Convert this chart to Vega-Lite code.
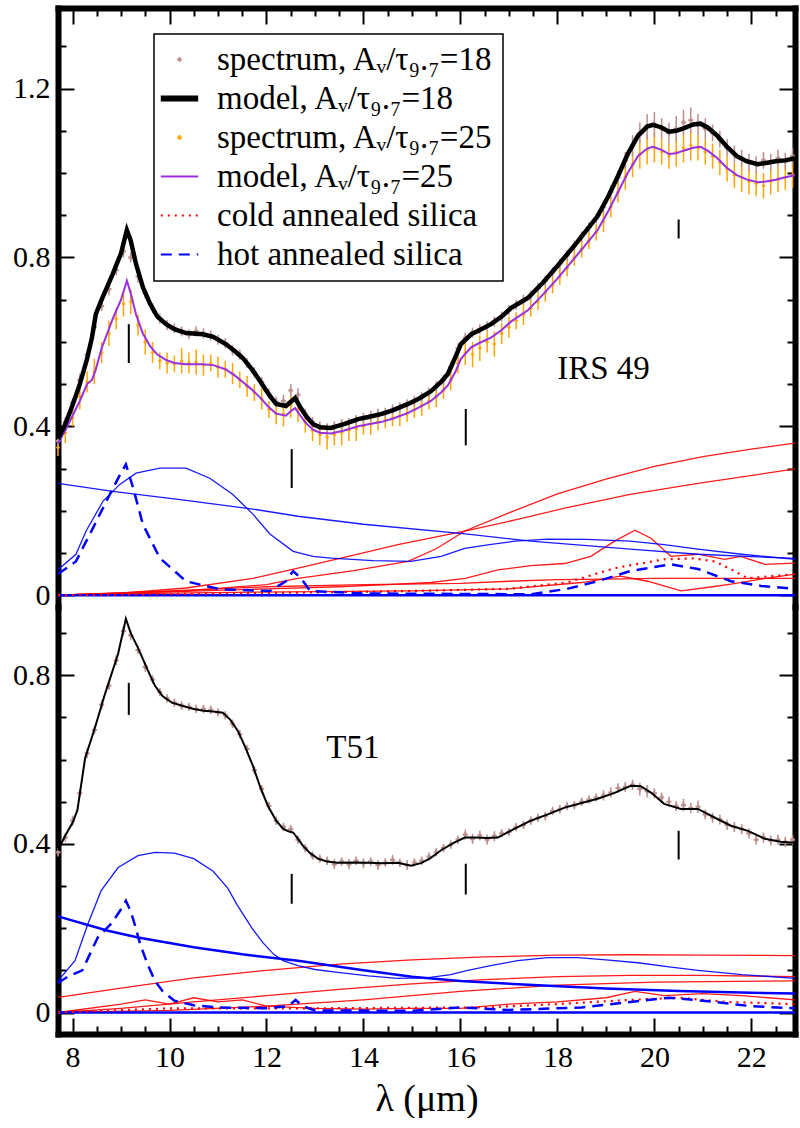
{
"$schema": "https://vega.github.io/schema/vega-lite/v6.json",
"padding": {"left": 12, "top": 7, "right": 0, "bottom": 0},
"background": "white",
"spacing": 0,
"bounds": "flush",
"config": {
  "font": "Liberation Serif",
  "view": {"stroke": null},
  "axis": {"grid": false, "domainColor": "black", "domainWidth": 6, "domainCap": "square", "tickColor": "black", "tickWidth": 2, "labelFont": "Liberation Serif", "labelFontSize": 30, "labelColor": "black", "labelOverlap": false, "labelFlush": false, "titleFont": "Liberation Serif", "titleFontSize": 36, "titleFontWeight": "normal", "titleColor": "black"}
},
"datasets": {
"ts": [
{"x":7.70,"a":0.365,"ea":0.012,"b":0.350,"eb":0.020},{"x":7.85,"a":0.410,"ea":0.012,"b":0.385,"eb":0.025},{"x":8.00,"a":0.455,"ea":0.012,"b":0.420,"eb":0.020},{"x":8.15,"a":0.510,"ea":0.015,"b":0.470,"eb":0.030},{"x":8.30,"a":0.570,"ea":0.012,"b":0.505,"eb":0.025},{"x":8.45,"a":0.635,"ea":0.015,"b":0.530,"eb":0.030},{"x":8.60,"a":0.685,"ea":0.012,"b":0.575,"eb":0.025},{"x":8.75,"a":0.725,"ea":0.015,"b":0.620,"eb":0.030},{"x":8.90,"a":0.770,"ea":0.012,"b":0.655,"eb":0.025},{"x":9.05,"a":0.815,"ea":0.015,"b":0.690,"eb":0.030},{"x":9.20,"a":0.800,"ea":0.012,"b":0.695,"eb":0.030},{"x":9.35,"a":0.755,"ea":0.015,"b":0.640,"eb":0.025},{"x":9.50,"a":0.715,"ea":0.012,"b":0.600,"eb":0.030},{"x":9.65,"a":0.680,"ea":0.012,"b":0.575,"eb":0.025},{"x":9.80,"a":0.655,"ea":0.012,"b":0.555,"eb":0.020},{"x":9.95,"a":0.640,"ea":0.012,"b":0.550,"eb":0.025},{"x":10.10,"a":0.632,"ea":0.012,"b":0.548,"eb":0.020},{"x":10.25,"a":0.625,"ea":0.012,"b":0.555,"eb":0.030},{"x":10.40,"a":0.618,"ea":0.012,"b":0.550,"eb":0.025},{"x":10.55,"a":0.625,"ea":0.012,"b":0.552,"eb":0.030},{"x":10.70,"a":0.620,"ea":0.012,"b":0.545,"eb":0.025},{"x":10.85,"a":0.615,"ea":0.012,"b":0.550,"eb":0.020},{"x":11.00,"a":0.605,"ea":0.012,"b":0.540,"eb":0.025},{"x":11.15,"a":0.597,"ea":0.012,"b":0.535,"eb":0.020},{"x":11.30,"a":0.580,"ea":0.012,"b":0.525,"eb":0.025},{"x":11.45,"a":0.570,"ea":0.012,"b":0.510,"eb":0.020},{"x":11.60,"a":0.550,"ea":0.012,"b":0.495,"eb":0.025},{"x":11.75,"a":0.528,"ea":0.012,"b":0.480,"eb":0.020},{"x":11.90,"a":0.505,"ea":0.012,"b":0.465,"eb":0.025},{"x":12.05,"a":0.478,"ea":0.012,"b":0.440,"eb":0.020},{"x":12.20,"a":0.458,"ea":0.012,"b":0.430,"eb":0.025},{"x":12.35,"a":0.460,"ea":0.015,"b":0.430,"eb":0.030},{"x":12.50,"a":0.485,"ea":0.015,"b":0.450,"eb":0.030},{"x":12.65,"a":0.475,"ea":0.015,"b":0.440,"eb":0.030},{"x":12.80,"a":0.430,"ea":0.012,"b":0.410,"eb":0.025},{"x":12.95,"a":0.410,"ea":0.012,"b":0.390,"eb":0.025},{"x":13.10,"a":0.400,"ea":0.012,"b":0.380,"eb":0.025},{"x":13.25,"a":0.395,"ea":0.012,"b":0.375,"eb":0.030},{"x":13.40,"a":0.400,"ea":0.012,"b":0.380,"eb":0.025},{"x":13.55,"a":0.405,"ea":0.012,"b":0.385,"eb":0.030},{"x":13.70,"a":0.408,"ea":0.012,"b":0.390,"eb":0.025},{"x":13.85,"a":0.415,"ea":0.012,"b":0.395,"eb":0.030},{"x":14.00,"a":0.420,"ea":0.012,"b":0.400,"eb":0.020},{"x":14.15,"a":0.425,"ea":0.012,"b":0.405,"eb":0.025},{"x":14.30,"a":0.430,"ea":0.012,"b":0.410,"eb":0.020},{"x":14.45,"a":0.432,"ea":0.012,"b":0.415,"eb":0.020},{"x":14.60,"a":0.440,"ea":0.012,"b":0.420,"eb":0.020},{"x":14.75,"a":0.445,"ea":0.012,"b":0.425,"eb":0.025},{"x":14.90,"a":0.452,"ea":0.012,"b":0.430,"eb":0.020},{"x":15.05,"a":0.460,"ea":0.012,"b":0.440,"eb":0.020},{"x":15.20,"a":0.470,"ea":0.012,"b":0.450,"eb":0.025},{"x":15.35,"a":0.480,"ea":0.012,"b":0.460,"eb":0.020},{"x":15.50,"a":0.495,"ea":0.012,"b":0.470,"eb":0.025},{"x":15.65,"a":0.510,"ea":0.012,"b":0.485,"eb":0.020},{"x":15.80,"a":0.540,"ea":0.012,"b":0.510,"eb":0.025},{"x":15.95,"a":0.585,"ea":0.012,"b":0.550,"eb":0.025},{"x":16.10,"a":0.610,"ea":0.012,"b":0.575,"eb":0.030},{"x":16.25,"a":0.622,"ea":0.012,"b":0.570,"eb":0.030},{"x":16.40,"a":0.630,"ea":0.012,"b":0.585,"eb":0.030},{"x":16.55,"a":0.637,"ea":0.012,"b":0.600,"eb":0.025},{"x":16.70,"a":0.648,"ea":0.012,"b":0.595,"eb":0.030},{"x":16.85,"a":0.660,"ea":0.012,"b":0.620,"eb":0.025},{"x":17.00,"a":0.675,"ea":0.012,"b":0.635,"eb":0.025},{"x":17.15,"a":0.688,"ea":0.012,"b":0.650,"eb":0.020},{"x":17.30,"a":0.700,"ea":0.012,"b":0.665,"eb":0.025},{"x":17.45,"a":0.710,"ea":0.012,"b":0.680,"eb":0.020},{"x":17.60,"a":0.728,"ea":0.012,"b":0.695,"eb":0.020},{"x":17.75,"a":0.745,"ea":0.012,"b":0.715,"eb":0.020},{"x":17.90,"a":0.765,"ea":0.012,"b":0.735,"eb":0.020},{"x":18.05,"a":0.785,"ea":0.012,"b":0.755,"eb":0.020},{"x":18.20,"a":0.805,"ea":0.012,"b":0.775,"eb":0.020},{"x":18.35,"a":0.828,"ea":0.012,"b":0.800,"eb":0.020},{"x":18.50,"a":0.850,"ea":0.012,"b":0.820,"eb":0.020},{"x":18.65,"a":0.872,"ea":0.012,"b":0.840,"eb":0.020},{"x":18.80,"a":0.893,"ea":0.012,"b":0.860,"eb":0.020},{"x":18.95,"a":0.920,"ea":0.015,"b":0.885,"eb":0.025},{"x":19.10,"a":0.955,"ea":0.015,"b":0.920,"eb":0.025},{"x":19.25,"a":0.990,"ea":0.015,"b":0.955,"eb":0.025},{"x":19.40,"a":1.030,"ea":0.020,"b":0.990,"eb":0.030},{"x":19.55,"a":1.065,"ea":0.025,"b":1.020,"eb":0.030},{"x":19.70,"a":1.095,"ea":0.025,"b":1.045,"eb":0.035},{"x":19.85,"a":1.110,"ea":0.030,"b":1.055,"eb":0.035},{"x":20.00,"a":1.115,"ea":0.030,"b":1.060,"eb":0.035},{"x":20.15,"a":1.105,"ea":0.025,"b":1.050,"eb":0.030},{"x":20.30,"a":1.095,"ea":0.025,"b":1.040,"eb":0.030},{"x":20.45,"a":1.105,"ea":0.030,"b":1.050,"eb":0.035},{"x":20.60,"a":1.120,"ea":0.030,"b":1.060,"eb":0.035},{"x":20.75,"a":1.125,"ea":0.030,"b":1.065,"eb":0.035},{"x":20.90,"a":1.115,"ea":0.025,"b":1.060,"eb":0.030},{"x":21.05,"a":1.105,"ea":0.025,"b":1.050,"eb":0.030},{"x":21.20,"a":1.095,"ea":0.020,"b":1.040,"eb":0.030},{"x":21.35,"a":1.080,"ea":0.020,"b":1.025,"eb":0.030},{"x":21.50,"a":1.060,"ea":0.020,"b":1.010,"eb":0.030},{"x":21.65,"a":1.045,"ea":0.020,"b":0.995,"eb":0.030},{"x":21.80,"a":1.035,"ea":0.020,"b":0.990,"eb":0.035},{"x":21.95,"a":1.025,"ea":0.020,"b":0.980,"eb":0.030},{"x":22.10,"a":1.020,"ea":0.020,"b":0.975,"eb":0.030},{"x":22.25,"a":1.030,"ea":0.020,"b":0.970,"eb":0.030},{"x":22.40,"a":1.025,"ea":0.020,"b":0.980,"eb":0.030},{"x":22.55,"a":1.035,"ea":0.020,"b":0.985,"eb":0.030},{"x":22.70,"a":1.028,"ea":0.020,"b":0.990,"eb":0.030},{"x":22.85,"a":1.040,"ea":0.020,"b":0.995,"eb":0.030}
],
"tm": [
{"x":7.70,"p":0.370,"q":0.360},{"x":7.85,"p":0.405,"q":0.390},{"x":8.00,"p":0.450,"q":0.425},{"x":8.15,"p":0.500,"q":0.460},{"x":8.30,"p":0.560,"q":0.500},{"x":8.40,"p":0.610,"q":0.510},{"x":8.48,"p":0.666,"q":0.535},{"x":8.60,"p":0.700,"q":0.585},{"x":8.83,"p":0.761,"q":0.655},{"x":9.00,"p":0.810,"q":0.700},{"x":9.12,"p":0.865,"q":0.745},{"x":9.20,"p":0.840,"q":0.715},{"x":9.31,"p":0.784,"q":0.665},{"x":9.45,"p":0.730,"q":0.620},{"x":9.60,"p":0.690,"q":0.590},{"x":9.75,"p":0.660,"q":0.570},{"x":9.93,"p":0.642,"q":0.557},{"x":10.10,"p":0.630,"q":0.550},{"x":10.34,"p":0.621,"q":0.547},{"x":10.69,"p":0.618,"q":0.547},{"x":10.90,"p":0.612,"q":0.545},{"x":11.16,"p":0.595,"q":0.535},{"x":11.35,"p":0.578,"q":0.520},{"x":11.51,"p":0.562,"q":0.505},{"x":11.70,"p":0.535,"q":0.487},{"x":11.87,"p":0.507,"q":0.468},{"x":12.05,"p":0.475,"q":0.445},{"x":12.20,"p":0.453,"q":0.430},{"x":12.40,"p":0.448,"q":0.425},{"x":12.52,"p":0.460,"q":0.438},{"x":12.59,"p":0.467,"q":0.443},{"x":12.70,"p":0.445,"q":0.425},{"x":12.81,"p":0.425,"q":0.408},{"x":12.96,"p":0.405,"q":0.392},{"x":13.10,"p":0.398,"q":0.385},{"x":13.33,"p":0.396,"q":0.383},{"x":13.60,"p":0.405,"q":0.390},{"x":13.89,"p":0.417,"q":0.400},{"x":14.10,"p":0.422,"q":0.405},{"x":14.36,"p":0.429,"q":0.410},{"x":14.60,"p":0.438,"q":0.418},{"x":14.92,"p":0.453,"q":0.432},{"x":15.15,"p":0.466,"q":0.445},{"x":15.39,"p":0.483,"q":0.460},{"x":15.60,"p":0.505,"q":0.480},{"x":15.74,"p":0.524,"q":0.497},{"x":15.90,"p":0.565,"q":0.530},{"x":16.01,"p":0.595,"q":0.560},{"x":16.22,"p":0.618,"q":0.587},{"x":16.40,"p":0.628,"q":0.598},{"x":16.63,"p":0.642,"q":0.610},{"x":16.85,"p":0.660,"q":0.628},{"x":17.04,"p":0.680,"q":0.648},{"x":17.39,"p":0.704,"q":0.675},{"x":17.70,"p":0.740,"q":0.712},{"x":18.00,"p":0.780,"q":0.750},{"x":18.40,"p":0.835,"q":0.805},{"x":18.83,"p":0.898,"q":0.865},{"x":19.05,"p":0.945,"q":0.910},{"x":19.25,"p":0.993,"q":0.955},{"x":19.45,"p":1.045,"q":1.000},{"x":19.66,"p":1.088,"q":1.040},{"x":19.85,"p":1.110,"q":1.058},{"x":19.97,"p":1.114,"q":1.062},{"x":20.15,"p":1.108,"q":1.055},{"x":20.30,"p":1.098,"q":1.045},{"x":20.45,"p":1.100,"q":1.047},{"x":20.60,"p":1.106,"q":1.053},{"x":20.80,"p":1.115,"q":1.060},{"x":20.95,"p":1.117,"q":1.062},{"x":21.10,"p":1.108,"q":1.053},{"x":21.30,"p":1.088,"q":1.035},{"x":21.50,"p":1.062,"q":1.012},{"x":21.70,"p":1.040,"q":0.995},{"x":21.90,"p":1.028,"q":0.985},{"x":22.13,"p":1.021,"q":0.978},{"x":22.30,"p":1.024,"q":0.980},{"x":22.50,"p":1.028,"q":0.984},{"x":22.70,"p":1.030,"q":0.990},{"x":22.90,"p":1.035,"q":0.995}
],
"tc": [
{"c":"rA","k":"red","x":7.7,"y":0},{"c":"rA","k":"red","x":9,"y":0.005},{"c":"rA","k":"red","x":10.34,"y":0.017},{"c":"rA","k":"red","x":11.72,"y":0.04},{"c":"rA","k":"red","x":12.65,"y":0.064},{"c":"rA","k":"red","x":13.8,"y":0.095},{"c":"rA","k":"red","x":14.71,"y":0.12},{"c":"rA","k":"red","x":16.09,"y":0.152},{"c":"rA","k":"red","x":17.2,"y":0.18},{"c":"rA","k":"red","x":18.15,"y":0.206},{"c":"rA","k":"red","x":19.5,"y":0.239},{"c":"rA","k":"red","x":20.9,"y":0.265},{"c":"rA","k":"red","x":22.9,"y":0.299},
{"c":"rB","k":"red","x":7.7,"y":0},{"c":"rB","k":"red","x":10.34,"y":0.01},{"c":"rB","k":"red","x":12,"y":0.025},{"c":"rB","k":"red","x":12.65,"y":0.04},{"c":"rB","k":"red","x":13.8,"y":0.058},{"c":"rB","k":"red","x":14.92,"y":0.08},{"c":"rB","k":"red","x":15.5,"y":0.11},{"c":"rB","k":"red","x":16.09,"y":0.152},{"c":"rB","k":"red","x":17,"y":0.195},{"c":"rB","k":"red","x":18,"y":0.24},{"c":"rB","k":"red","x":19,"y":0.275},{"c":"rB","k":"red","x":20,"y":0.305},{"c":"rB","k":"red","x":21,"y":0.328},{"c":"rB","k":"red","x":22,"y":0.346},{"c":"rB","k":"red","x":22.9,"y":0.36},
{"c":"rC","k":"red","x":7.7,"y":0},{"c":"rC","k":"red","x":10,"y":0.008},{"c":"rC","k":"red","x":12,"y":0.015},{"c":"rC","k":"red","x":13.5,"y":0.02},{"c":"rC","k":"red","x":14.5,"y":0.025},{"c":"rC","k":"red","x":15.39,"y":0.03},{"c":"rC","k":"red","x":16.1,"y":0.04},{"c":"rC","k":"red","x":16.77,"y":0.06},{"c":"rC","k":"red","x":17.45,"y":0.07},{"c":"rC","k":"red","x":18.15,"y":0.075},{"c":"rC","k":"red","x":18.69,"y":0.092},{"c":"rC","k":"red","x":19.18,"y":0.128},{"c":"rC","k":"red","x":19.6,"y":0.154},{"c":"rC","k":"red","x":19.93,"y":0.135},{"c":"rC","k":"red","x":20.34,"y":0.092},{"c":"rC","k":"red","x":20.9,"y":0.097},{"c":"rC","k":"red","x":21.45,"y":0.085},{"c":"rC","k":"red","x":21.78,"y":0.092},{"c":"rC","k":"red","x":22.28,"y":0.073},{"c":"rC","k":"red","x":22.9,"y":0.076},
{"c":"rD","k":"red","x":7.7,"y":0},{"c":"rD","k":"red","x":10,"y":0.01},{"c":"rD","k":"red","x":12,"y":0.02},{"c":"rD","k":"red","x":14,"y":0.025},{"c":"rD","k":"red","x":16,"y":0.028},{"c":"rD","k":"red","x":17,"y":0.033},{"c":"rD","k":"red","x":18,"y":0.037},{"c":"rD","k":"red","x":19,"y":0.038},{"c":"rD","k":"red","x":20,"y":0.04},{"c":"rD","k":"red","x":21,"y":0.04},{"c":"rD","k":"red","x":22,"y":0.04},{"c":"rD","k":"red","x":22.9,"y":0.04},
{"c":"rE","k":"red","x":7.7,"y":0},{"c":"rE","k":"red","x":10,"y":0.005},{"c":"rE","k":"red","x":12.5,"y":0.008},{"c":"rE","k":"red","x":15,"y":0.01},{"c":"rE","k":"red","x":17,"y":0.015},{"c":"rE","k":"red","x":18.5,"y":0.03},{"c":"rE","k":"red","x":19.3,"y":0.045},{"c":"rE","k":"red","x":19.86,"y":0.033},{"c":"rE","k":"red","x":20.55,"y":0.01},{"c":"rE","k":"red","x":21.2,"y":0.02},{"c":"rE","k":"red","x":21.58,"y":0.026},{"c":"rE","k":"red","x":22.3,"y":0.04},{"c":"rE","k":"red","x":22.9,"y":0.05},
{"c":"b1","k":"blue","x":7.7,"y":0.265},{"c":"b1","k":"blue","x":8.83,"y":0.246},{"c":"b1","k":"blue","x":10.3,"y":0.225},{"c":"b1","k":"blue","x":11.72,"y":0.204},{"c":"b1","k":"blue","x":12.65,"y":0.187},{"c":"b1","k":"blue","x":14,"y":0.168},{"c":"b1","k":"blue","x":16.1,"y":0.145},{"c":"b1","k":"blue","x":17.45,"y":0.128},{"c":"b1","k":"blue","x":19.5,"y":0.109},{"c":"b1","k":"blue","x":20.9,"y":0.097},{"c":"b1","k":"blue","x":22.9,"y":0.087},
{"c":"b2","k":"blue","x":7.7,"y":0.06},{"c":"b2","k":"blue","x":8.07,"y":0.097},{"c":"b2","k":"blue","x":8.28,"y":0.152},{"c":"b2","k":"blue","x":8.63,"y":0.223},{"c":"b2","k":"blue","x":8.98,"y":0.263},{"c":"b2","k":"blue","x":9.31,"y":0.289},{"c":"b2","k":"blue","x":9.8,"y":0.301},{"c":"b2","k":"blue","x":10.34,"y":0.301},{"c":"b2","k":"blue","x":10.83,"y":0.277},{"c":"b2","k":"blue","x":11.3,"y":0.239},{"c":"b2","k":"blue","x":11.72,"y":0.192},{"c":"b2","k":"blue","x":12.07,"y":0.145},{"c":"b2","k":"blue","x":12.55,"y":0.104},{"c":"b2","k":"blue","x":12.96,"y":0.092},{"c":"b2","k":"blue","x":13.33,"y":0.088},{"c":"b2","k":"blue","x":14.2,"y":0.082},{"c":"b2","k":"blue","x":14.98,"y":0.08},{"c":"b2","k":"blue","x":15.6,"y":0.092},{"c":"b2","k":"blue","x":16.09,"y":0.111},{"c":"b2","k":"blue","x":16.6,"y":0.12},{"c":"b2","k":"blue","x":17.12,"y":0.128},{"c":"b2","k":"blue","x":17.8,"y":0.133},{"c":"b2","k":"blue","x":18.6,"y":0.132},{"c":"b2","k":"blue","x":19.5,"y":0.128},{"c":"b2","k":"blue","x":20.2,"y":0.12},{"c":"b2","k":"blue","x":20.9,"y":0.109},{"c":"b2","k":"blue","x":21.8,"y":0.097},{"c":"b2","k":"blue","x":22.9,"y":0.085},
{"c":"b0","k":"base","x":7.7,"y":0},{"c":"b0","k":"base","x":22.9,"y":0},
{"c":"h","k":"hot","x":7.7,"y":0.05},{"c":"h","k":"hot","x":8.07,"y":0.08},{"c":"h","k":"hot","x":8.42,"y":0.159},{"c":"h","k":"hot","x":8.77,"y":0.239},{"c":"h","k":"hot","x":9.0,"y":0.29},{"c":"h","k":"hot","x":9.1,"y":0.31},{"c":"h","k":"hot","x":9.25,"y":0.254},{"c":"h","k":"hot","x":9.45,"y":0.168},{"c":"h","k":"hot","x":9.8,"y":0.088},{"c":"h","k":"hot","x":10.34,"y":0.033},{"c":"h","k":"hot","x":11.04,"y":0.014},{"c":"h","k":"hot","x":12.07,"y":0.01},{"c":"h","k":"hot","x":12.4,"y":0.033},{"c":"h","k":"hot","x":12.55,"y":0.057},{"c":"h","k":"hot","x":12.71,"y":0.04},{"c":"h","k":"hot","x":12.9,"y":0.01},{"c":"h","k":"hot","x":14,"y":0.004},{"c":"h","k":"hot","x":16,"y":0.003},{"c":"h","k":"hot","x":17.45,"y":0.002},{"c":"h","k":"hot","x":18.2,"y":0.015},{"c":"h","k":"hot","x":18.83,"y":0.033},{"c":"h","k":"hot","x":19.5,"y":0.057},{"c":"h","k":"hot","x":20.34,"y":0.073},{"c":"h","k":"hot","x":20.9,"y":0.062},{"c":"h","k":"hot","x":21.58,"y":0.033},{"c":"h","k":"hot","x":22.2,"y":0.022},{"c":"h","k":"hot","x":22.9,"y":0.015},
{"c":"co","k":"cold","x":7.7,"y":0},{"c":"co","k":"cold","x":12,"y":0.005},{"c":"co","k":"cold","x":15,"y":0.01},{"c":"co","k":"cold","x":17,"y":0.015},{"c":"co","k":"cold","x":18.2,"y":0.03},{"c":"co","k":"cold","x":19.18,"y":0.064},{"c":"co","k":"cold","x":20.2,"y":0.085},{"c":"co","k":"cold","x":20.8,"y":0.087},{"c":"co","k":"cold","x":21.25,"y":0.08},{"c":"co","k":"cold","x":21.6,"y":0.06},{"c":"co","k":"cold","x":21.93,"y":0.04},{"c":"co","k":"cold","x":22.4,"y":0.045},{"c":"co","k":"cold","x":22.9,"y":0.05}
],
"tk": [{"x":9.16,"lo":0.55,"hi":0.642},{"x":12.52,"lo":0.254,"hi":0.346},{"x":16.11,"lo":0.355,"hi":0.441},{"x":20.5,"lo":0.845,"hi":0.89}],
"tt": [{"x":18.95,"y":0.535,"t":"IRS 49"}],
"bs": [
{"x":7.70,"y":0.380,"e":0.010},{"x":7.85,"y":0.415,"e":0.010},{"x":8.00,"y":0.455,"e":0.012},{"x":8.15,"y":0.520,"e":0.010},{"x":8.30,"y":0.615,"e":0.012},{"x":8.45,"y":0.670,"e":0.010},{"x":8.60,"y":0.730,"e":0.012},{"x":8.75,"y":0.775,"e":0.010},{"x":8.90,"y":0.835,"e":0.012},{"x":9.05,"y":0.905,"e":0.012},{"x":9.20,"y":0.895,"e":0.012},{"x":9.35,"y":0.860,"e":0.010},{"x":9.50,"y":0.820,"e":0.012},{"x":9.65,"y":0.790,"e":0.010},{"x":9.80,"y":0.760,"e":0.010},{"x":9.95,"y":0.745,"e":0.010},{"x":10.10,"y":0.735,"e":0.010},{"x":10.25,"y":0.728,"e":0.010},{"x":10.40,"y":0.725,"e":0.010},{"x":10.55,"y":0.720,"e":0.010},{"x":10.70,"y":0.720,"e":0.010},{"x":10.85,"y":0.718,"e":0.010},{"x":11.00,"y":0.712,"e":0.010},{"x":11.15,"y":0.705,"e":0.010},{"x":11.30,"y":0.685,"e":0.010},{"x":11.45,"y":0.660,"e":0.010},{"x":11.60,"y":0.625,"e":0.010},{"x":11.75,"y":0.575,"e":0.010},{"x":11.90,"y":0.530,"e":0.010},{"x":12.05,"y":0.490,"e":0.010},{"x":12.20,"y":0.455,"e":0.010},{"x":12.35,"y":0.440,"e":0.010},{"x":12.50,"y":0.435,"e":0.010},{"x":12.65,"y":0.410,"e":0.010},{"x":12.80,"y":0.390,"e":0.010},{"x":12.95,"y":0.372,"e":0.010},{"x":13.10,"y":0.365,"e":0.010},{"x":13.25,"y":0.360,"e":0.010},{"x":13.40,"y":0.352,"e":0.012},{"x":13.55,"y":0.358,"e":0.010},{"x":13.70,"y":0.352,"e":0.012},{"x":13.85,"y":0.360,"e":0.010},{"x":14.00,"y":0.354,"e":0.012},{"x":14.15,"y":0.358,"e":0.010},{"x":14.30,"y":0.350,"e":0.012},{"x":14.45,"y":0.356,"e":0.010},{"x":14.60,"y":0.362,"e":0.012},{"x":14.75,"y":0.355,"e":0.010},{"x":14.90,"y":0.350,"e":0.012},{"x":15.05,"y":0.356,"e":0.010},{"x":15.20,"y":0.360,"e":0.010},{"x":15.35,"y":0.370,"e":0.010},{"x":15.50,"y":0.380,"e":0.010},{"x":15.65,"y":0.390,"e":0.010},{"x":15.80,"y":0.398,"e":0.010},{"x":15.95,"y":0.410,"e":0.010},{"x":16.10,"y":0.422,"e":0.012},{"x":16.25,"y":0.412,"e":0.012},{"x":16.40,"y":0.420,"e":0.012},{"x":16.55,"y":0.410,"e":0.012},{"x":16.70,"y":0.418,"e":0.012},{"x":16.85,"y":0.425,"e":0.010},{"x":17.00,"y":0.428,"e":0.010},{"x":17.15,"y":0.440,"e":0.010},{"x":17.30,"y":0.445,"e":0.010},{"x":17.45,"y":0.455,"e":0.010},{"x":17.60,"y":0.462,"e":0.010},{"x":17.75,"y":0.466,"e":0.010},{"x":17.90,"y":0.478,"e":0.010},{"x":18.05,"y":0.482,"e":0.010},{"x":18.20,"y":0.490,"e":0.010},{"x":18.35,"y":0.492,"e":0.010},{"x":18.50,"y":0.500,"e":0.010},{"x":18.65,"y":0.505,"e":0.010},{"x":18.80,"y":0.510,"e":0.010},{"x":18.95,"y":0.515,"e":0.012},{"x":19.10,"y":0.522,"e":0.012},{"x":19.25,"y":0.532,"e":0.012},{"x":19.40,"y":0.535,"e":0.012},{"x":19.55,"y":0.540,"e":0.012},{"x":19.70,"y":0.530,"e":0.015},{"x":19.85,"y":0.525,"e":0.015},{"x":20.00,"y":0.520,"e":0.012},{"x":20.15,"y":0.510,"e":0.012},{"x":20.30,"y":0.500,"e":0.012},{"x":20.45,"y":0.490,"e":0.012},{"x":20.60,"y":0.492,"e":0.015},{"x":20.75,"y":0.485,"e":0.012},{"x":20.90,"y":0.488,"e":0.015},{"x":21.05,"y":0.470,"e":0.012},{"x":21.20,"y":0.462,"e":0.012},{"x":21.35,"y":0.458,"e":0.012},{"x":21.50,"y":0.445,"e":0.012},{"x":21.65,"y":0.440,"e":0.012},{"x":21.80,"y":0.435,"e":0.012},{"x":21.95,"y":0.425,"e":0.012},{"x":22.10,"y":0.410,"e":0.012},{"x":22.25,"y":0.415,"e":0.012},{"x":22.40,"y":0.408,"e":0.012},{"x":22.55,"y":0.410,"e":0.012},{"x":22.70,"y":0.405,"e":0.012},{"x":22.85,"y":0.410,"e":0.012}
],
"bm": [
{"x":7.7,"y":0.385},{"x":7.85,"y":0.42},{"x":8.0,"y":0.45},{"x":8.1,"y":0.48},{"x":8.26,"y":0.604},{"x":8.46,"y":0.675},{"x":8.67,"y":0.756},{"x":8.94,"y":0.851},{"x":9.1,"y":0.934},{"x":9.2,"y":0.9},{"x":9.35,"y":0.865},{"x":9.56,"y":0.81},{"x":9.7,"y":0.775},{"x":9.86,"y":0.75},{"x":10.05,"y":0.735},{"x":10.28,"y":0.727},{"x":10.5,"y":0.72},{"x":10.7,"y":0.716},{"x":10.9,"y":0.714},{"x":11.1,"y":0.711},{"x":11.25,"y":0.695},{"x":11.41,"y":0.668},{"x":11.56,"y":0.63},{"x":11.72,"y":0.585},{"x":11.87,"y":0.535},{"x":12.03,"y":0.49},{"x":12.2,"y":0.455},{"x":12.34,"y":0.436},{"x":12.45,"y":0.43},{"x":12.55,"y":0.427},{"x":12.65,"y":0.412},{"x":12.75,"y":0.396},{"x":12.9,"y":0.378},{"x":13.06,"y":0.365},{"x":13.25,"y":0.358},{"x":13.47,"y":0.355},{"x":13.8,"y":0.356},{"x":14.1,"y":0.355},{"x":14.4,"y":0.354},{"x":14.71,"y":0.355},{"x":14.98,"y":0.348},{"x":15.2,"y":0.355},{"x":15.39,"y":0.367},{"x":15.6,"y":0.385},{"x":15.85,"y":0.402},{"x":16.09,"y":0.415},{"x":16.3,"y":0.415},{"x":16.55,"y":0.414},{"x":16.77,"y":0.415},{"x":17.1,"y":0.435},{"x":17.45,"y":0.455},{"x":17.8,"y":0.47},{"x":18.15,"y":0.486},{"x":18.5,"y":0.497},{"x":18.83,"y":0.507},{"x":19.18,"y":0.521},{"x":19.51,"y":0.538},{"x":19.72,"y":0.537},{"x":19.95,"y":0.52},{"x":20.2,"y":0.495},{"x":20.55,"y":0.483},{"x":20.9,"y":0.483},{"x":21.25,"y":0.462},{"x":21.58,"y":0.443},{"x":21.93,"y":0.431},{"x":22.28,"y":0.412},{"x":22.6,"y":0.405},{"x":22.9,"y":0.403}
],
"bc": [
{"c":"bh","k":"blue","x":7.7,"y":0.075},{"c":"bh","k":"blue","x":8.05,"y":0.123},{"c":"bh","k":"blue","x":8.32,"y":0.211},{"c":"bh","k":"blue","x":8.59,"y":0.289},{"c":"bh","k":"blue","x":8.94,"y":0.344},{"c":"bh","k":"blue","x":9.35,"y":0.372},{"c":"bh","k":"blue","x":9.7,"y":0.38},{"c":"bh","k":"blue","x":10.1,"y":0.378},{"c":"bh","k":"blue","x":10.5,"y":0.365},{"c":"bh","k":"blue","x":10.9,"y":0.335},{"c":"bh","k":"blue","x":11.2,"y":0.295},{"c":"bh","k":"blue","x":11.4,"y":0.254},{"c":"bh","k":"blue","x":11.7,"y":0.2},{"c":"bh","k":"blue","x":11.93,"y":0.165},{"c":"bh","k":"blue","x":12.15,"y":0.138},{"c":"bh","k":"blue","x":12.34,"y":0.123},{"c":"bh","k":"blue","x":12.65,"y":0.111},{"c":"bh","k":"blue","x":13,"y":0.102},{"c":"bh","k":"blue","x":13.47,"y":0.095},{"c":"bh","k":"blue","x":14.1,"y":0.087},{"c":"bh","k":"blue","x":14.7,"y":0.081},{"c":"bh","k":"blue","x":15.3,"y":0.082},{"c":"bh","k":"blue","x":15.8,"y":0.09},{"c":"bh","k":"blue","x":16.15,"y":0.1},{"c":"bh","k":"blue","x":16.7,"y":0.113},{"c":"bh","k":"blue","x":17.18,"y":0.123},{"c":"bh","k":"blue","x":17.8,"y":0.13},{"c":"bh","k":"blue","x":18.42,"y":0.13},{"c":"bh","k":"blue","x":19,"y":0.125},{"c":"bh","k":"blue","x":19.66,"y":0.118},{"c":"bh","k":"blue","x":20.3,"y":0.108},{"c":"bh","k":"blue","x":20.9,"y":0.1},{"c":"bh","k":"blue","x":21.8,"y":0.09},{"c":"bh","k":"blue","x":22.9,"y":0.081},
{"c":"bl","k":"thick","x":7.7,"y":0.228},{"c":"bl","k":"thick","x":8.73,"y":0.194},{"c":"bl","k":"thick","x":9.35,"y":0.178},{"c":"bl","k":"thick","x":10.5,"y":0.155},{"c":"bl","k":"thick","x":11.5,"y":0.138},{"c":"bl","k":"thick","x":12.65,"y":0.123},{"c":"bl","k":"thick","x":14,"y":0.1},{"c":"bl","k":"thick","x":15,"y":0.085},{"c":"bl","k":"thick","x":16,"y":0.075},{"c":"bl","k":"thick","x":17.5,"y":0.065},{"c":"bl","k":"thick","x":19,"y":0.057},{"c":"bl","k":"thick","x":20.5,"y":0.051},{"c":"bl","k":"thick","x":22,"y":0.047},{"c":"bl","k":"thick","x":22.9,"y":0.045},
{"c":"b0","k":"base","x":7.7,"y":0},{"c":"b0","k":"base","x":22.9,"y":0},
{"c":"h","k":"hot","x":7.7,"y":0.07},{"c":"h","k":"hot","x":7.9,"y":0.085},{"c":"h","k":"hot","x":8.2,"y":0.1},{"c":"h","k":"hot","x":8.52,"y":0.178},{"c":"h","k":"hot","x":8.8,"y":0.211},{"c":"h","k":"hot","x":9,"y":0.245},{"c":"h","k":"hot","x":9.1,"y":0.265},{"c":"h","k":"hot","x":9.2,"y":0.24},{"c":"h","k":"hot","x":9.28,"y":0.21},{"c":"h","k":"hot","x":9.4,"y":0.16},{"c":"h","k":"hot","x":9.56,"y":0.111},{"c":"h","k":"hot","x":9.7,"y":0.075},{"c":"h","k":"hot","x":9.86,"y":0.05},{"c":"h","k":"hot","x":10.1,"y":0.028},{"c":"h","k":"hot","x":10.5,"y":0.017},{"c":"h","k":"hot","x":11,"y":0.012},{"c":"h","k":"hot","x":12,"y":0.01},{"c":"h","k":"hot","x":12.45,"y":0.015},{"c":"h","k":"hot","x":12.6,"y":0.03},{"c":"h","k":"hot","x":12.75,"y":0.015},{"c":"h","k":"hot","x":13,"y":0.005},{"c":"h","k":"hot","x":15,"y":0.004},{"c":"h","k":"hot","x":16,"y":0.012},{"c":"h","k":"hot","x":17,"y":0.006},{"c":"h","k":"hot","x":18.5,"y":0.012},{"c":"h","k":"hot","x":19.5,"y":0.025},{"c":"h","k":"hot","x":20.3,"y":0.035},{"c":"h","k":"hot","x":21,"y":0.028},{"c":"h","k":"hot","x":22,"y":0.015},{"c":"h","k":"hot","x":22.9,"y":0.01},
{"c":"co","k":"cold","x":7.7,"y":0},{"c":"co","k":"cold","x":10,"y":0.01},{"c":"co","k":"cold","x":13,"y":0.01},{"c":"co","k":"cold","x":16.5,"y":0.012},{"c":"co","k":"cold","x":18,"y":0.02},{"c":"co","k":"cold","x":19.5,"y":0.03},{"c":"co","k":"cold","x":20.5,"y":0.035},{"c":"co","k":"cold","x":21.5,"y":0.025},{"c":"co","k":"cold","x":22.9,"y":0.02},
{"c":"r1","k":"red","x":7.7,"y":0.036},{"c":"r1","k":"red","x":9,"y":0.058},{"c":"r1","k":"red","x":10.5,"y":0.082},{"c":"r1","k":"red","x":12,"y":0.1},{"c":"r1","k":"red","x":13.5,"y":0.115},{"c":"r1","k":"red","x":15,"y":0.125},{"c":"r1","k":"red","x":16.5,"y":0.132},{"c":"r1","k":"red","x":18,"y":0.136},{"c":"r1","k":"red","x":19.5,"y":0.137},{"c":"r1","k":"red","x":21,"y":0.136},{"c":"r1","k":"red","x":22.9,"y":0.135},
{"c":"r2","k":"red","x":7.7,"y":0},{"c":"r2","k":"red","x":9,"y":0.01},{"c":"r2","k":"red","x":10.5,"y":0.025},{"c":"r2","k":"red","x":12,"y":0.04},{"c":"r2","k":"red","x":13.5,"y":0.055},{"c":"r2","k":"red","x":15,"y":0.068},{"c":"r2","k":"red","x":16.5,"y":0.078},{"c":"r2","k":"red","x":18,"y":0.085},{"c":"r2","k":"red","x":19.5,"y":0.088},{"c":"r2","k":"red","x":21,"y":0.088},{"c":"r2","k":"red","x":22.9,"y":0.085},
{"c":"r3","k":"red","x":7.7,"y":0},{"c":"r3","k":"red","x":10,"y":0.005},{"c":"r3","k":"red","x":12,"y":0.015},{"c":"r3","k":"red","x":14,"y":0.03},{"c":"r3","k":"red","x":16,"y":0.05},{"c":"r3","k":"red","x":18,"y":0.065},{"c":"r3","k":"red","x":20,"y":0.072},{"c":"r3","k":"red","x":22.9,"y":0.075},
{"c":"r4","k":"red","x":7.7,"y":0},{"c":"r4","k":"red","x":9,"y":0.02},{"c":"r4","k":"red","x":9.5,"y":0.03},{"c":"r4","k":"red","x":10,"y":0.02},{"c":"r4","k":"red","x":10.5,"y":0.035},{"c":"r4","k":"red","x":11,"y":0.025},{"c":"r4","k":"red","x":11.5,"y":0.03},{"c":"r4","k":"red","x":12,"y":0.015},{"c":"r4","k":"red","x":13,"y":0.01},{"c":"r4","k":"red","x":14,"y":0.008},{"c":"r4","k":"red","x":15,"y":0.01},{"c":"r4","k":"red","x":16,"y":0.01},{"c":"r4","k":"red","x":17,"y":0.02},{"c":"r4","k":"red","x":18,"y":0.025},{"c":"r4","k":"red","x":19,"y":0.035},{"c":"r4","k":"red","x":19.6,"y":0.05},{"c":"r4","k":"red","x":20.2,"y":0.04},{"c":"r4","k":"red","x":21,"y":0.045},{"c":"r4","k":"red","x":21.8,"y":0.04},{"c":"r4","k":"red","x":22.9,"y":0.03}
],
"bk": [{"x":9.16,"lo":0.706,"hi":0.782},{"x":12.52,"lo":0.258,"hi":0.329},{"x":16.11,"lo":0.28,"hi":0.353},{"x":20.5,"lo":0.363,"hi":0.431}],
"bt": [{"x":13.78,"y":0.628,"t":"T51"}]
},
"vconcat": [
{
"width": 737, "height": 599,
"resolve": {"axis": {"x": "independent", "y": "independent"}},
"layer": [
{"data": {"name": "tc"}, "transform": [{"filter": "datum.k == 'red'"}],
 "mark": {"type": "line", "color": "#ff0000", "strokeWidth": 1.3, "opacity": 0.9},
 "encoding": {
  "x": {"field": "x", "type": "quantitative", "scale": {"domain": [7.7, 22.9], "nice": false, "zero": false},
        "axis": {"orient": "top", "values": [8,8.5,9,9.5,10,10.5,11,11.5,12,12.5,13,13.5,14,14.5,15,15.5,16,16.5,17,17.5,18,18.5,19,19.5,20,20.5,21,21.5,22,22.5], "labels": false, "title": null,
                 "tickSize": {"condition": {"test": "datum.value % 2 == 0", "value": -16}, "value": -8}}},
  "y": {"field": "y", "type": "quantitative", "scale": {"domain": [-0.028, 1.391], "nice": false, "zero": false},
        "axis": {"orient": "left", "values": [0,0.1,0.2,0.3,0.4,0.5,0.6,0.7,0.8,0.9,1,1.1,1.2,1.3], "title": null, "labelPadding": 24, "labelFont": "Liberation Serif",
                 "labelExpr": "abs(datum.value*2.5 - round(datum.value*2.5)) < 0.001 ? (datum.value == 0 ? '0' : format(datum.value, '.1f')) : ''",
                 "tickSize": {"condition": {"test": "abs(datum.value*2.5 - round(datum.value*2.5)) < 0.001", "value": -16}, "value": -8}}},
  "detail": {"field": "c", "type": "nominal"}
 }},
{"data": {"name": "tc"}, "transform": [{"filter": "datum.k == 'blue'"}],
 "mark": {"type": "line", "color": "#0000ff", "strokeWidth": 1.3, "opacity": 0.9},
 "encoding": {"x": {"field": "x", "type": "quantitative", "axis": null}, "y": {"field": "y", "type": "quantitative", "axis": null}, "detail": {"field": "c", "type": "nominal"}}},
{"data": {"name": "tc"}, "transform": [{"filter": "datum.k == 'base'"}],
 "mark": {"type": "line", "color": "#0000ff", "strokeWidth": 2.5},
 "encoding": {"x": {"field": "x", "type": "quantitative", "axis": null}, "y": {"field": "y", "type": "quantitative", "axis": null}}},
{"data": {"name": "tc"}, "transform": [{"filter": "datum.k == 'cold'"}],
 "mark": {"type": "line", "color": "#ff0000", "strokeWidth": 2.2, "strokeDash": [2, 5]},
 "encoding": {"x": {"field": "x", "type": "quantitative", "axis": null}, "y": {"field": "y", "type": "quantitative", "axis": null}}},
{"data": {"name": "tc"}, "transform": [{"filter": "datum.k == 'hot'"}],
 "mark": {"type": "line", "color": "#0000ff", "strokeWidth": 2.5, "strokeDash": [11, 7]},
 "encoding": {"x": {"field": "x", "type": "quantitative", "axis": null}, "y": {"field": "y", "type": "quantitative", "axis": null}}},
{"data": {"name": "ts"},
 "mark": {"type": "errorbar", "color": "#ffa500", "thickness": 1.5},
 "encoding": {"x": {"field": "x", "type": "quantitative", "axis": null}, "y": {"field": "b", "type": "quantitative", "axis": null}, "yError": {"field": "eb"}}},
{"data": {"name": "ts"},
 "mark": {"type": "point", "shape": "cross", "filled": true, "size": 14, "color": "#ffa500", "opacity": 1},
 "encoding": {"x": {"field": "x", "type": "quantitative", "axis": null}, "y": {"field": "b", "type": "quantitative", "axis": null}}},
{"data": {"name": "ts"},
 "mark": {"type": "errorbar", "color": "#bc8f8f", "thickness": 1.5},
 "encoding": {"x": {"field": "x", "type": "quantitative", "axis": null}, "y": {"field": "a", "type": "quantitative", "axis": null}, "yError": {"field": "ea"}}},
{"data": {"name": "ts"},
 "mark": {"type": "point", "shape": "cross", "filled": true, "size": 26, "color": "#bc8f8f", "opacity": 1},
 "encoding": {"x": {"field": "x", "type": "quantitative", "axis": null}, "y": {"field": "a", "type": "quantitative", "axis": null}}},
{"data": {"name": "tm"},
 "mark": {"type": "line", "color": "#9a30e0", "strokeWidth": 2},
 "encoding": {"x": {"field": "x", "type": "quantitative", "axis": null}, "y": {"field": "q", "type": "quantitative", "axis": null}}},
{"data": {"name": "tm"},
 "mark": {"type": "line", "strokeWidth": 4.5},
 "encoding": {"x": {"field": "x", "type": "quantitative", "axis": null}, "y": {"field": "p", "type": "quantitative", "axis": null},
  "color": {"datum": "m18", "type": "nominal",
   "scale": {"domain": ["s18","m18","s25","m25","cold","hot"], "range": ["#bc8f8f","#000000","#ffa500","#9a30e0","#ff0000","#0000ff"]},
   "legend": {"orient": "none", "legendX": 96, "legendY": 26, "title": null, "direction": "vertical",
     "labelFont": "Liberation Serif", "labelFontSize": 33, "labelColor": "black", "labelLimit": 600, "labelOffset": 21,
     "labelExpr": "datum.value == 's18' ? 'spectrum, Aᵥ/τ₉.₇=18' : datum.value == 'm18' ? 'model, Aᵥ/τ₉.₇=18' : datum.value == 's25' ? 'spectrum, Aᵥ/τ₉.₇=25' : datum.value == 'm25' ? 'model, Aᵥ/τ₉.₇=25' : datum.value == 'cold' ? 'cold annealed silica' : 'hot annealed silica'",
     "symbolType": "stroke", "symbolSize": 1400, "symbolStrokeWidth": 2, "rowPadding": 5, "padding": 9,
     "strokeColor": "black", "fillColor": "white",
     "encode": {
       "legend": {"update": {"strokeWidth": {"value": 1.5}}},
       "symbols": {"update": {
         "shape": {"signal": "datum.value == 's18' || datum.value == 's25' ? 'cross' : 'stroke'"},
         "size": {"signal": "datum.value == 's18' || datum.value == 's25' ? 25 : 1400"},
         "stroke": {"signal": "datum.value == 's18' ? '#bc8f8f' : datum.value == 'm18' ? '#000000' : datum.value == 's25' ? '#ffa500' : datum.value == 'm25' ? '#9a30e0' : datum.value == 'cold' ? '#ff0000' : '#0000ff'"},
         "fill": {"signal": "datum.value == 's18' ? '#bc8f8f' : datum.value == 's25' ? '#ffa500' : 'transparent'"},
         "strokeWidth": {"signal": "datum.value == 'm18' ? 6 : datum.value == 's18' || datum.value == 's25' ? 0 : 2"},
         "strokeDash": {"signal": "datum.value == 'cold' ? [2,5] : datum.value == 'hot' ? [11,7] : [1,0]"},
         "opacity": {"value": 1}
       }}
     }}}
 }},
{"data": {"name": "tk"},
 "mark": {"type": "rule", "color": "black", "strokeWidth": 2},
 "encoding": {"x": {"field": "x", "type": "quantitative", "axis": null},
  "y": {"field": "lo", "type": "quantitative",
        "axis": {"orient": "right", "values": [0,0.1,0.2,0.3,0.4,0.5,0.6,0.7,0.8,0.9,1,1.1,1.2,1.3], "title": null, "labels": false,
                 "tickSize": {"condition": {"test": "abs(datum.value*2.5 - round(datum.value*2.5)) < 0.001", "value": -16}, "value": -8}}},
  "y2": {"field": "hi"}}},
{"data": {"name": "tt"},
 "mark": {"type": "text", "font": "Liberation Serif", "fontSize": 33, "color": "black"},
 "encoding": {"x": {"field": "x", "type": "quantitative", "axis": null}, "y": {"field": "y", "type": "quantitative", "axis": null}, "text": {"field": "t"}}}
]
},
{
"width": 737, "height": 427,
"resolve": {"axis": {"x": "independent", "y": "independent"}},
"layer": [
{"data": {"name": "bc"}, "transform": [{"filter": "datum.k == 'red'"}],
 "mark": {"type": "line", "color": "#ff0000", "strokeWidth": 1.3, "opacity": 0.9},
 "encoding": {
  "x": {"field": "x", "type": "quantitative", "scale": {"domain": [7.7, 22.9], "nice": false, "zero": false},
        "axis": {"orient": "bottom", "values": [8,8.5,9,9.5,10,10.5,11,11.5,12,12.5,13,13.5,14,14.5,15,15.5,16,16.5,17,17.5,18,18.5,19,19.5,20,20.5,21,21.5,22,22.5], "title": "λ (μm)", "titlePadding": 0, "labelPadding": 24,
                 "labelFont": "Liberation Serif", "titleFont": "Liberation Serif", "titleFontSize": 38,
                 "labelExpr": "datum.value % 2 == 0 ? format(datum.value, 'd') : ''",
                 "tickSize": {"condition": {"test": "datum.value % 2 == 0", "value": -16}, "value": -8}}},
  "y": {"field": "y", "type": "quantitative", "scale": {"domain": [-0.051, 0.962], "nice": false, "zero": false},
        "axis": {"orient": "left", "values": [0,0.1,0.2,0.3,0.4,0.5,0.6,0.7,0.8,0.9], "title": null, "labelPadding": 24, "labelFont": "Liberation Serif",
                 "labelExpr": "abs(datum.value*2.5 - round(datum.value*2.5)) < 0.001 ? (datum.value == 0 ? '0' : format(datum.value, '.1f')) : ''",
                 "tickSize": {"condition": {"test": "abs(datum.value*2.5 - round(datum.value*2.5)) < 0.001", "value": -16}, "value": -8}}},
  "detail": {"field": "c", "type": "nominal"}
 }},
{"data": {"name": "bc"}, "transform": [{"filter": "datum.k == 'blue'"}],
 "mark": {"type": "line", "color": "#0000ff", "strokeWidth": 1.3, "opacity": 0.9},
 "encoding": {"x": {"field": "x", "type": "quantitative", "axis": null}, "y": {"field": "y", "type": "quantitative", "axis": null}, "detail": {"field": "c", "type": "nominal"}}},
{"data": {"name": "bc"}, "transform": [{"filter": "datum.k == 'thick'"}],
 "mark": {"type": "line", "color": "#0000ff", "strokeWidth": 2.5},
 "encoding": {"x": {"field": "x", "type": "quantitative", "axis": null}, "y": {"field": "y", "type": "quantitative", "axis": null}}},
{"data": {"name": "bc"}, "transform": [{"filter": "datum.k == 'base'"}],
 "mark": {"type": "line", "color": "#0000ff", "strokeWidth": 2.5},
 "encoding": {"x": {"field": "x", "type": "quantitative", "axis": null}, "y": {"field": "y", "type": "quantitative", "axis": null}}},
{"data": {"name": "bc"}, "transform": [{"filter": "datum.k == 'cold'"}],
 "mark": {"type": "line", "color": "#ff0000", "strokeWidth": 2.2, "strokeDash": [2, 5]},
 "encoding": {"x": {"field": "x", "type": "quantitative", "axis": null}, "y": {"field": "y", "type": "quantitative", "axis": null}}},
{"data": {"name": "bc"}, "transform": [{"filter": "datum.k == 'hot'"}],
 "mark": {"type": "line", "color": "#0000ff", "strokeWidth": 2.5, "strokeDash": [11, 7]},
 "encoding": {"x": {"field": "x", "type": "quantitative", "axis": null}, "y": {"field": "y", "type": "quantitative", "axis": null}}},
{"data": {"name": "bs"},
 "mark": {"type": "errorbar", "color": "#bc8f8f", "thickness": 1.5},
 "encoding": {"x": {"field": "x", "type": "quantitative", "axis": null}, "y": {"field": "y", "type": "quantitative", "axis": null}, "yError": {"field": "e"}}},
{"data": {"name": "bs"},
 "mark": {"type": "point", "shape": "cross", "filled": true, "size": 26, "color": "#bc8f8f", "opacity": 1},
 "encoding": {"x": {"field": "x", "type": "quantitative", "axis": null}, "y": {"field": "y", "type": "quantitative", "axis": null}}},
{"data": {"name": "bm"},
 "mark": {"type": "line", "color": "#000000", "strokeWidth": 2},
 "encoding": {"x": {"field": "x", "type": "quantitative", "axis": null}, "y": {"field": "y", "type": "quantitative", "axis": null}}},
{"data": {"name": "bk"},
 "mark": {"type": "rule", "color": "black", "strokeWidth": 2},
 "encoding": {"x": {"field": "x", "type": "quantitative", "axis": null},
  "y": {"field": "lo", "type": "quantitative",
        "axis": {"orient": "right", "values": [0,0.1,0.2,0.3,0.4,0.5,0.6,0.7,0.8,0.9], "title": null, "labels": false,
                 "tickSize": {"condition": {"test": "abs(datum.value*2.5 - round(datum.value*2.5)) < 0.001", "value": -16}, "value": -8}}},
  "y2": {"field": "hi"}}},
{"data": {"name": "bt"},
 "mark": {"type": "text", "font": "Liberation Serif", "fontSize": 33, "color": "black"},
 "encoding": {"x": {"field": "x", "type": "quantitative", "axis": null}, "y": {"field": "y", "type": "quantitative", "axis": null}, "text": {"field": "t"}}}
]
}
]
}
